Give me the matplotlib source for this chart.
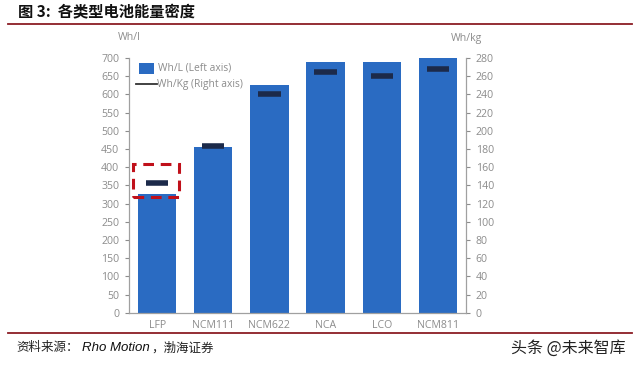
import matplotlib
matplotlib.use("Agg")
import matplotlib.pyplot as plt
from matplotlib.patches import Rectangle
from matplotlib.lines import Line2D

plt.rcParams['font.family'] = ['DejaVu Sans', 'Noto Sans CJK SC']

categories = ["LFP", "NCM111", "NCM622", "NCA", "LCO", "NCM811"]
wh_per_l = [325, 455, 625, 690, 690, 700]
wh_per_kg = [143, 183, 240, 265, 260, 268]
left_ticks = list(range(0, 701, 50))
right_ticks = list(range(0, 281, 20))

bar_color = "#2a6bc2"
mark_color = "#1c2a4a"
grey = "#8c8c8c"
dark_red = "#8b1c24"

fig = plt.figure(figsize=(6.4, 3.65), dpi=100)
ax = fig.add_axes([129/640, 1-312.7/365, (466-129)/640, (312.7-58)/365])
ax2 = ax.twinx()

x = list(range(len(categories)))
ax.bar(x, wh_per_l, width=0.68, color=bar_color, zorder=2)
ax.set_xlim(-0.5, 5.5)
ax.set_ylim(0, 700)
ax.set_yticks(left_ticks)
ax.set_xticks(x)
ax.set_xticklabels(categories)

ax2.set_ylim(0, 280)
ax2.set_yticks(right_ticks)
ax2.hlines(wh_per_kg, [i - 0.2 for i in x], [i + 0.2 for i in x],
           colors=mark_color, linewidth=4, zorder=3)

for a in (ax, ax2):
    a.spines["top"].set_visible(False)
    a.tick_params(axis="both", colors=grey, labelsize=7.6, length=3, width=0.8, labelcolor=grey, pad=4)
    for s in ("left", "right", "bottom"):
        a.spines[s].set_color("#a0a0a0")
        a.spines[s].set_linewidth(0.9)
ax.tick_params(axis="x", length=0, pad=5)
ax.spines["right"].set_visible(False)
ax2.spines["left"].set_visible(False)
ax2.spines["bottom"].set_visible(False)
for lab in ax.get_yticklabels() + ax2.get_yticklabels() + ax.get_xticklabels():
    lab.set_fontfamily(["Open Sans", "DejaVu Sans"])

# axis unit labels
fig.text(129/640, 1-37/365, "Wh/l", ha="center", va="center", fontsize=7.6, color=grey, family=["Open Sans", "DejaVu Sans"])
fig.text(466/640, 1-38/365, "Wh/kg", ha="center", va="center", fontsize=7.6, color=grey, family=["Open Sans", "DejaVu Sans"])

# legend
fig.patches.append(Rectangle((139/640, 1-74/365), 15/640, 11/365, transform=fig.transFigure,
                             facecolor=bar_color, edgecolor="none"))
fig.text(158/640, 1-67.5/365, "Wh/L (Left axis)", ha="left", va="center", fontsize=7.4, color=grey,
         family=["Open Sans", "DejaVu Sans"])
fig.lines.append(Line2D([136/640, 157/640], [1-84/365, 1-84/365], transform=fig.transFigure,
                        color="#333333", linewidth=1.3))
fig.text(157/640, 1-84/365, "Wh/Kg (Right axis)", ha="left", va="center", fontsize=7.4, color=grey,
         family=["Open Sans", "DejaVu Sans"])

# dashed highlight box
fig.patches.append(Rectangle((133/640, 1-197/365), 46/640, 33/365, transform=fig.transFigure,
                             facecolor="none", edgecolor="#c0101a", linewidth=2.2,
                             linestyle=(0, (3.5, 2.2))))

# title and rules
fig.text(18/640, 1-12/365, "图 3:  各类型电池能量密度", ha="left", va="center", fontsize=11,
         fontweight="bold", color="#111111", family=["Noto Sans CJK SC", "DejaVu Sans"])
fig.lines.append(Line2D([8/640, 632/640], [1-24/365, 1-24/365], transform=fig.transFigure,
                        color=dark_red, linewidth=1.3))
fig.lines.append(Line2D([8/640, 632/640], [1-333/365, 1-333/365], transform=fig.transFigure,
                        color=dark_red, linewidth=1.3))

# footer
fig.text(16/640, 1-348/365, "资料来源：", ha="left", va="center", fontsize=9, style="italic",
         color="#222222", family=["Noto Sans CJK SC", "DejaVu Sans"])
rho = fig.text(82/640, 1-348/365, "Rho Motion", ha="left", va="center", fontsize=9.5, style="italic",
               color="#111111", family=["Liberation Sans", "DejaVu Sans"])
fig.text(0, 0, "")
ax.annotate("，渤海证券", xy=(1, 0.5), xycoords=rho, xytext=(1, 0), textcoords="offset points",
            ha="left", va="center", fontsize=9, style="italic", color="#222222",
            family=["Noto Sans CJK SC", "DejaVu Sans"], annotation_clip=False)
fig.text(626/640, 1-348/365, "头条 @未来智库", ha="right", va="center", fontsize=11.5,
         color="#222222", family=["Noto Sans CJK SC", "DejaVu Sans"])

fig.savefig("out.png", dpi=100, facecolor="white")
